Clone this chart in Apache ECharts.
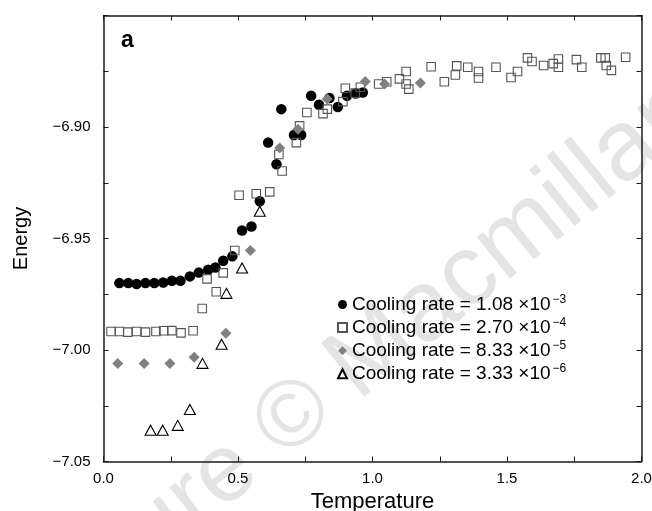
<!DOCTYPE html>
<html>
<head>
<meta charset="utf-8">
<title>Energy vs Temperature</title>
<script src="https://cdn.jsdelivr.net/npm/echarts@6/dist/echarts.min.js"></script>
<style>
  html, body { margin: 0; padding: 0; background: #fff; }
  #chart { width: 652px; height: 511px; }
</style>
</head>
<body>
<div id="chart"></div>
<script>
// cooling rates (mantissa / exponent) for the legend
const rateMantissa = ['1.08', '2.70', '8.33', '3.33'];
const rateExponent = ['−3', '−4', '−5', '−6'];

// rate 1.08e-3 (black circles)
const tempA = [0.059, 0.092, 0.123, 0.156, 0.189, 0.222, 0.254, 0.286, 0.321, 0.354, 0.389, 0.416, 0.445, 0.479,
  0.515, 0.550, 0.581, 0.612, 0.643, 0.661, 0.708, 0.735, 0.772, 0.801, 0.840, 0.871, 0.905, 0.937, 0.964];
const energyA = [-6.970, -6.970, -6.9704, -6.970, -6.970, -6.9697, -6.969, -6.969, -6.967, -6.9653, -6.964, -6.963, -6.960, -6.958,
  -6.9464, -6.9446, -6.9333, -6.907, -6.9167, -6.892, -6.9036, -6.9036, -6.886, -6.890, -6.887, -6.891, -6.886, -6.885, -6.8845];

// rate 2.70e-4 (open squares)
const tempB = [0.028, 0.059, 0.090, 0.123, 0.156, 0.195, 0.224, 0.254, 0.288, 0.333, 0.367, 0.385, 0.419, 0.445, 0.488,
  0.504, 0.568, 0.618, 0.652, 0.664, 0.717, 0.729, 0.756, 0.816, 0.832, 0.890, 0.899, 0.936, 0.955, 1.023,
  1.053, 1.100, 1.125, 1.125, 1.135, 1.218, 1.267, 1.308, 1.313, 1.354, 1.394, 1.394, 1.459, 1.515, 1.539,
  1.576, 1.593, 1.636, 1.672, 1.691, 1.691, 1.758, 1.778, 1.849, 1.865, 1.869, 1.888, 1.941];
const energyB = [-6.9917, -6.9917, -6.992, -6.9917, -6.992, -6.9917, -6.9914, -6.9913, -6.9923, -6.9914, -6.9814, -6.9681, -6.9739, -6.9654, -6.9554,
  -6.9306, -6.9299, -6.9291, -6.9123, -6.9197, -6.907, -6.8995, -6.8935, -6.894, -6.892, -6.8886, -6.8826, -6.8848, -6.8822, -6.8807,
  -6.8797, -6.8784, -6.8751, -6.8807, -6.883, -6.873, -6.8797, -6.8767, -6.8726, -6.8732, -6.8751, -6.878, -6.8732, -6.8778, -6.8751,
  -6.869, -6.8706, -6.8724, -6.8716, -6.8695, -6.8732, -6.8698, -6.8732, -6.869, -6.869, -6.8724, -6.8746, -6.8687];

// rate 8.33e-5 (grey diamonds)
const tempC = [0.053, 0.151, 0.247, 0.337, 0.455, 0.546, 0.655, 0.723, 0.832, 0.973, 1.045, 1.178];
const energyC = [-7.006, -7.006, -7.006, -7.0032, -6.9925, -6.9554, -6.9094, -6.901, -6.8874, -6.8796, -6.8807, -6.8803];

// rate 3.33e-6 (open triangles)
const tempD = [0.175, 0.220, 0.276, 0.321, 0.368, 0.439, 0.457, 0.515, 0.581];
const energyD = [-7.036, -7.036, -7.0338, -7.0267, -7.006, -6.9974, -6.9746, -6.9632, -6.9378];

const FONT = '"Liberation Sans", Arial, Helvetica, sans-serif';

const zip = (xs, ys) => xs.map((x, i) => [x, ys[i]]);
const seriesName = i => 'Cooling rate = ' + rateMantissa[i] + ' ×10' + rateExponent[i];

const dom = document.getElementById('chart');
const myChart = echarts.init(dom);

const sideAxis = {
  type: 'value',
  axisLine: { show: true, onZero: false, lineStyle: { color: '#1a1a1a', width: 1.5 } },
  axisTick: { show: true, inside: true, length: 5, lineStyle: { color: '#1a1a1a', width: 1 } },
  splitLine: { show: false }
};

const option = {
  animation: false,
  backgroundColor: '#fff',
  textStyle: { fontFamily: FONT },
  grid: { left: 103.5, right: 10.5, top: 15.5, bottom: 49.5, containLabel: false, outerBoundsMode: 'none' },
  xAxis: [
    Object.assign({}, sideAxis, {
      position: 'bottom', min: 0, max: 2, interval: 0.25,
      name: 'Temperature', nameLocation: 'middle', nameGap: 29,
      nameTextStyle: { fontSize: 22, color: '#000', fontFamily: FONT },
      axisLabel: {
        margin: 10, fontSize: 15, color: '#000', fontFamily: FONT,
        formatter: v => (Math.abs(v * 2 - Math.round(v * 2)) < 1e-6 ? v.toFixed(1) : '')
      }
    }),
    Object.assign({}, sideAxis, {
      position: 'top', min: 0, max: 2, interval: 0.25, axisLabel: { show: false }
    })
  ],
  yAxis: [
    Object.assign({}, sideAxis, {
      position: 'left', min: -7.05, max: -6.85, interval: 0.025,
      name: 'Energy', nameLocation: 'middle', nameGap: 72,
      nameTextStyle: { fontSize: 20, color: '#000', fontFamily: FONT },
      axisLabel: {
        margin: 13, fontSize: 15, color: '#000', fontFamily: FONT,
        formatter: v => {
          const k = v / 0.05;
          if (Math.abs(k - Math.round(k)) > 1e-6) return '';
          if (Math.abs(v + 6.85) < 1e-6) return '';
          return (v < 0 ? '−' : '') + Math.abs(v).toFixed(2);
        }
      }
    }),
    Object.assign({}, sideAxis, {
      position: 'right', min: -7.05, max: -6.85, interval: 0.025, axisLabel: { show: false }
    })
  ],
  legend: {
    orient: 'vertical',
    left: 337,
    top: 293.5,
    itemWidth: 9,
    itemHeight: 9,
    itemGap: 2.6,
    padding: 0,
    selectedMode: false,
    data: [0, 1, 2, 3].map(seriesName),
    formatter: name => {
      const i = [0, 1, 2, 3].find(k => seriesName(k) === name);
      return '{base|Cooling rate = ' + rateMantissa[i] + ' ×10}{sup|' + rateExponent[i] + '}';
    },
    textStyle: {
      fontFamily: FONT,
      color: '#000',
      rich: {
        base: { fontSize: 19, lineHeight: 22, fontFamily: FONT, color: '#000' },
        sup: { fontSize: 12, lineHeight: 12, verticalAlign: 'top', padding: [0, 0, 0, 2], fontFamily: FONT, color: '#000' }
      }
    }
  },
  graphic: [
    {
      // watermark
      type: 'group',
      x: 294, y: 418,
      rotation: 39 * Math.PI / 180,
      z: -10,
      silent: true,
      children: [
        { type: 'text', x: 0, y: 0, style: { text: '©', font: '94px ' + FONT, fill: '#e4e4e4', align: 'center', verticalAlign: 'middle' } },
        { type: 'text', x: -62, y: 0, style: { text: 'Nature', font: '96px ' + FONT, fill: '#e4e4e4', align: 'right', verticalAlign: 'middle' } },
        { type: 'text', x: 60, y: 0, style: { text: 'Macmillan', font: '100px ' + FONT, fill: '#e4e4e4', align: 'left', verticalAlign: 'middle' } }
      ]
    },
    {
      type: 'text',
      left: 121, top: 29,
      style: { text: 'a', font: '900 23px ' + FONT, fill: '#000' }
    }
  ],
  series: [
    {
      name: seriesName(0), type: 'scatter', data: zip(tempA, energyA),
      symbol: 'circle', symbolSize: 10.5,
      itemStyle: { color: '#000', opacity: 1 }
    },
    {
      name: seriesName(1), type: 'scatter', data: zip(tempB, energyB),
      symbol: 'rect', symbolSize: 8.5,
      itemStyle: { color: 'rgba(255,255,255,0)', borderColor: '#555', borderWidth: 1.1, opacity: 1 }
    },
    {
      name: seriesName(2), type: 'scatter', data: zip(tempC, energyC),
      symbol: 'diamond', symbolSize: 11,
      itemStyle: { color: '#808080', opacity: 1 }
    },
    {
      name: seriesName(3), type: 'scatter', data: zip(tempD, energyD),
      symbol: 'triangle', symbolSize: [11, 10],
      itemStyle: { color: 'rgba(255,255,255,0)', borderColor: '#000', borderWidth: 1.1, opacity: 1 }
    }
  ]
};

myChart.setOption(option);
window.addEventListener('resize', function () {
  myChart.resize();
});
</script>
</body>
</html>
